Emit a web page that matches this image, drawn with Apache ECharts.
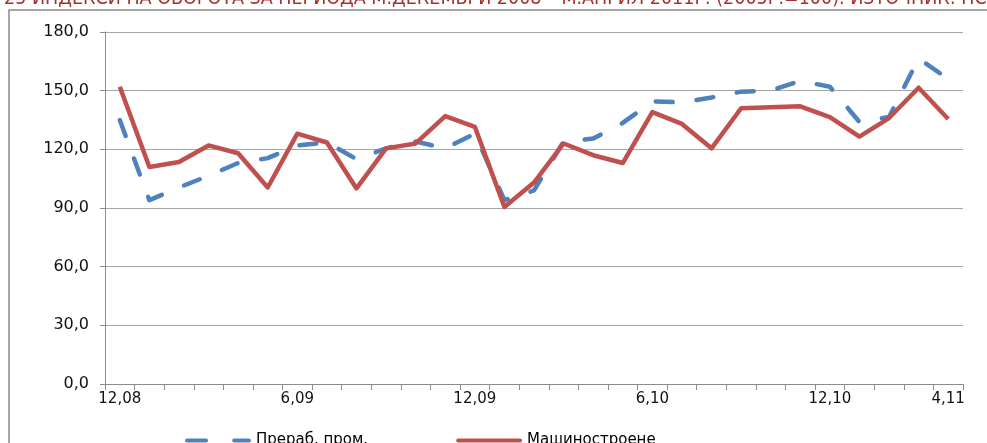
<!DOCTYPE html>
<html>
<head>
<meta charset="utf-8">
<script src="https://cdn.jsdelivr.net/npm/echarts@6/dist/echarts.min.js"></script>
<style>
  html, body { margin: 0; padding: 0; background: #fff; }
  #main { width: 987px; height: 443px; }
</style>
</head>
<body>
<div id="main"></div>
<script>
// месеци 12.2008 - 4.2011
const months = ["12,08","1,09","2,09","3,09","4,09","5,09","6,09","7,09","8,09","9,09","10,09","11,09",
  "12,09","1,10","2,10","3,10","4,10","5,10","6,10","7,10","8,10","9,10","10,10","11,10",
  "12,10","1,11","2,11","3,11","4,11"];

// Прераб. пром.
const prerab = [135, 94, 100.5, 106.5, 113, 115.5, 122, 123.5, 115, 120.5, 124, 120.5, 128, 94, 99,
  124, 125.5, 133.5, 144.5, 144, 146.5, 149.5, 150, 155, 152, 134, 136.5, 166.5, 156];

// Машиностроене
const mashini = [152, 111, 113.5, 122, 118, 100.5, 128, 123.5, 100, 120.5, 123, 137, 131.5, 90.5, 103,
  123, 117, 113, 139, 133, 120.5, 141, 141.5, 142, 136.5, 126.5, 136, 151.5, 135.5];

const yTicks = [0, 30, 60, 90, 120, 150, 180];

const titleText = "25 ИНДЕКСИ НА ОБОРОТА ЗА ПЕРИОДА М.ДЕКЕМВРИ 2008 – М.АПРИЛ 2011Г. (2005Г.=100). ИЗТОЧНИК: НСИ";

const chart = echarts.init(document.getElementById("main"));

// иконки за легендата (прекъсната / плътна линия)
const dashIcon = "path://M2,0H20A2,2 0 0 1 20,4H2A2,2 0 0 1 2,0ZM47,0H61A2,2 0 0 1 61,4H47A2,2 0 0 1 47,0Z";
const solidIcon = "path://M2,0H61A2,2 0 0 1 61,4H2A2,2 0 0 1 2,0Z";

const option = {
  animation: false,
  backgroundColor: "#fff",
  title: {
    text: titleText,
    left: -1,
    top: -16,
    textStyle: {
      color: "#a5322e",
      fontSize: 19.5,
      fontWeight: "normal",
      fontFamily: "'Liberation Sans Narrow', 'DejaVu Sans Condensed', sans-serif"
    }
  },
  graphic: [{
    type: "rect",
    z: -1,
    shape: { x: 9, y: 10, width: 1000, height: 500 },
    style: { fill: "none", stroke: "#8a8a8a", lineWidth: 1.5 }
  }],
  legend: {
    left: 180,
    top: 428,
    itemGap: 88,
    itemWidth: 66,
    itemHeight: 5,
    textStyle: { fontSize: 15, color: "#000", fontFamily: "'DejaVu Sans', sans-serif" },
    data: [
      { name: "Прераб. пром.", icon: dashIcon },
      { name: "Машиностроене", icon: solidIcon }
    ]
  },
  grid: { left: 105, right: 24, top: 32, bottom: 59 },
  xAxis: {
    type: "category",
    data: months,
    boundaryGap: true,
    axisLine: { lineStyle: { color: "#8c8c8c", width: 1 } },
    axisTick: { show: true, interval: 0, length: 6, lineStyle: { color: "#8c8c8c" } },
    axisLabel: {
      interval: (i) => i % 6 === 0 || i === months.length - 1,
      color: "#111",
      fontSize: 15,
      margin: 8,
      fontFamily: "'DejaVu Sans', sans-serif"
    },
    splitLine: { show: false }
  },
  yAxis: {
    type: "value",
    min: yTicks[0],
    max: yTicks[yTicks.length - 1],
    interval: 30,
    axisLine: { show: true, lineStyle: { color: "#8c8c8c", width: 1 } },
    axisTick: { show: true, length: 5, lineStyle: { color: "#8c8c8c" } },
    axisLabel: {
      formatter: (v) => v.toFixed(1).replace(".", ","),
      color: "#111",
      fontSize: 16,
      margin: 16,
      fontFamily: "'DejaVu Sans', sans-serif"
    },
    splitLine: { lineStyle: { color: "#a6a6a6", width: 1 } }
  },
  series: [
    {
      name: "Прераб. пром.",
      type: "line",
      data: prerab,
      symbol: "none",
      itemStyle: { color: "#4f81bd" },
      lineStyle: { color: "#4f81bd", width: 4.5, type: [17, 24], cap: "round", join: "round" }
    },
    {
      name: "Машиностроене",
      type: "line",
      data: mashini,
      symbol: "none",
      itemStyle: { color: "#c0504d" },
      lineStyle: { color: "#c0504d", width: 4.5, type: "solid", join: "round" }
    }
  ]
};

chart.setOption(option);
</script>
</body>
</html>
